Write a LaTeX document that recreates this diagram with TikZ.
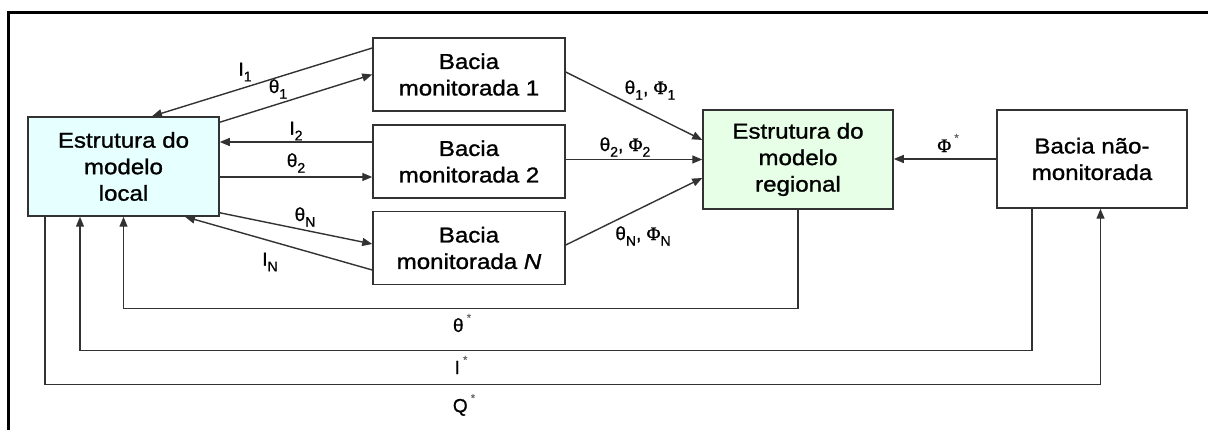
\documentclass[tikz,border=0pt]{standalone}
\usepackage{fontspec}
\setmainfont{Liberation Sans}[FakeBold=0.8]
\newfontfamily\boxfont{Liberation Sans}[FakeStretch=1.12,FakeBold=1.2]
\newfontfamily\phifont{Liberation Serif}[FakeBold=1.2]
\usetikzlibrary{arrows.meta,calc}
\definecolor{localfill}{RGB}{230,255,255}
\definecolor{regfill}{RGB}{230,255,230}
\definecolor{edge}{RGB}{50,50,50}
\newcommand{\lsub}[1]{\raisebox{-0.3em}{\fontsize{14}{14}\selectfont #1}}
\newcommand{\lsup}{\raisebox{0.55em}{\fontsize{11}{11}\selectfont\color{black!60}*}}
\newcommand{\Phis}{{\phifont Φ}}
\tikzset{
  box/.style={draw=edge, line width=1.5pt, align=center, inner sep=0pt,
    font=\boxfont\fontsize{21.5}{26.5}\selectfont},
  conn/.style={draw=edge, line width=1.4pt},
  arr/.style={conn, -{Triangle[length=10pt,width=8pt]}},
  lbl/.style={font=\fontsize{19}{21}\selectfont, inner sep=0pt}
}
\begin{document}
\begin{tikzpicture}[x=1pt,y=-1pt]
\useasboundingbox (0,0) rectangle (1208,430);
\draw[line width=2.2pt] (8.5,430) -- (8.5,12.5) -- (1208,12.5);

\node[box, fill=localfill, minimum width=191pt, minimum height=99pt] (local) at (123.5,166.5) {Estrutura do\\modelo\\local};
\node[box, minimum width=192pt, minimum height=73pt] (b1) at (469,74.5) {Bacia\\monitorada 1};
\node[box, minimum width=192pt, minimum height=73pt] (b2) at (469,161.5) {Bacia\\monitorada 2};
\node[box, minimum width=192pt, minimum height=73pt] (bn) at (469,248) {Bacia\\monitorada \textit{N}};
\node[box, fill=regfill, minimum width=190pt, minimum height=99pt] (reg) at (798,159.5) {Estrutura do\\modelo\\regional};
\node[box, minimum width=190pt, minimum height=98pt] (nao) at (1092,159) {Bacia não-\\monitorada};

% local <-> monitored basins
\draw[arr] ([yshift=26.5pt]b1.west) -- ([xshift=28.5pt]local.north);
\draw[arr] ([yshift=-6pt]local.north east) -- (b1.west);
\draw[arr] ([yshift=19.5pt]b2.west) coordinate (i2s) -- (i2s -| local.east);
\draw[arr] ([yshift=-10.5pt]local.east) coordinate (t2s) -- (t2s -| b2.west);
\draw[arr] ([yshift=4pt]local.south east) -- ([yshift=4pt]bn.west);
\draw[arr] ([yshift=-22pt]bn.west) -- ([xshift=61.5pt]local.south);

% monitored basins -> regional
\draw[arr] ([yshift=2.5pt]b1.east) -- ([yshift=19.5pt]reg.west);
\draw[arr] (reg.west -| b2.east) -- (reg.west);
\draw[arr] ([yshift=3pt]bn.east) -- ([yshift=-18.5pt]reg.west);
\draw[arr] (nao.west) -- (nao.west -| reg.east);

% feedback loops
\draw[arr] (reg.south) -- ++(0,99) -| (local.south);
\draw[arr] ([xshift=-60pt]nao.south) -- ++(0,142) -| ([xshift=-43.5pt]local.south);
\draw[arr] ([xshift=-78.5pt]local.south) -- ++(0,168) -| ([xshift=8.5pt]nao.south);

% labels
\node[lbl] (l1) at (245,72) {I\lsub{1}};
\node[lbl] (l2) at (278,89) {θ\lsub{1}};
\node[lbl] (l3) at (296,131) {I\lsub{2}};
\node[lbl] (l4) at (296,163) {θ\lsub{2}};
\node[lbl] (l5) at (305,217) {θ\lsub{N}};
\node[lbl] (l6) at (270,262) {I\lsub{N}};
\node[lbl] (l7) at (650,90) {θ\lsub{1}, \Phis\lsub{1}};
\node[lbl] (l8) at (625,147) {θ\lsub{2}, \Phis\lsub{2}};
\node[lbl] (l9) at (643,236) {θ\lsub{N}, \Phis\lsub{N}};
\node[lbl] (l10) at (948,143) {\Phis\,\lsup};
\node[lbl] (l11) at (462,323) {θ\,\lsup};
\node[lbl] (l12) at (461,365) {I\,\lsup};
\node[lbl] (l13) at (464,405) {Q\,\lsup};
\end{tikzpicture}
\end{document}
